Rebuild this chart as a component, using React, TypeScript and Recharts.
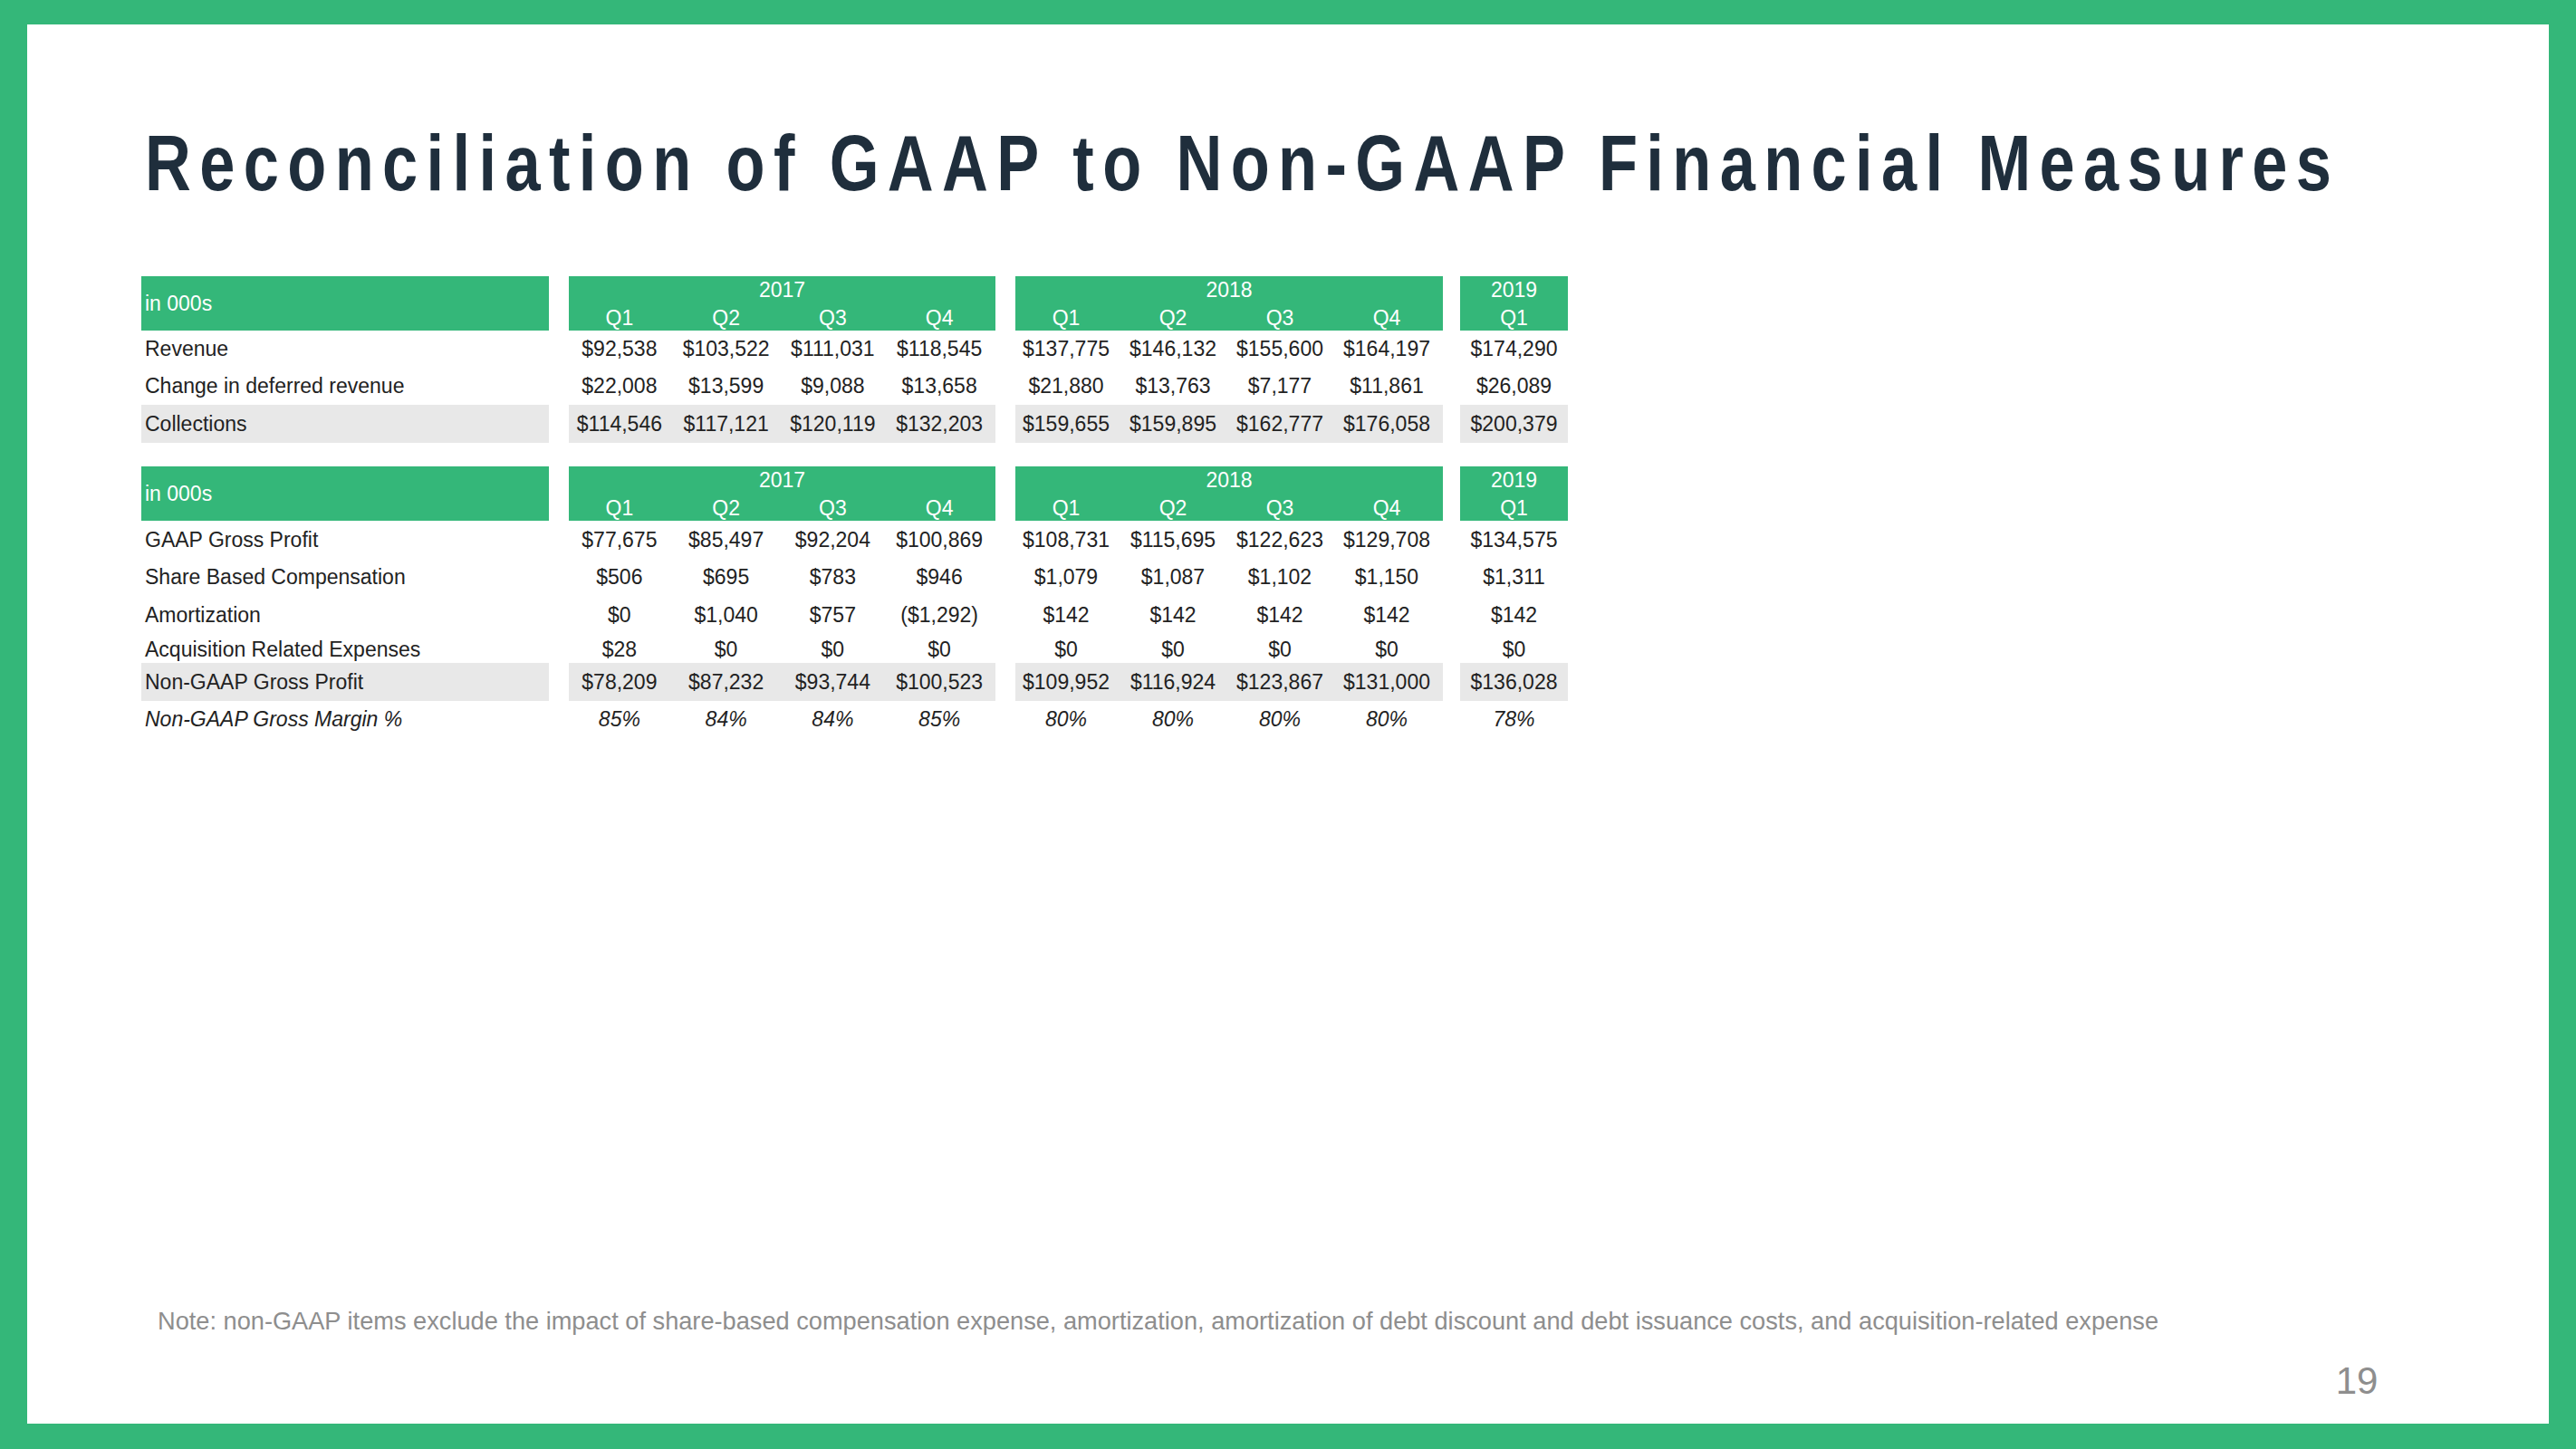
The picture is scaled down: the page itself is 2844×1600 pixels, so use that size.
import React from 'react';
import { Surface, Layer, Rectangle, Text } from 'recharts';

const WIDTH = 2844;
const HEIGHT = 1600;
const FONT = '"Liberation Sans", Arial, Helvetica, sans-serif';
const GREEN = '#34b779';
const TITLE_COLOR = '#1f2e3c';
const TEXT_COLOR = '#222222';
const SHADE = '#e8e8e8';
const NOTE_COLOR = '#8e8e8e';

const title = 'Reconciliation of GAAP to Non-GAAP Financial Measures';
const unitLabel = 'in 000s';
const years = ['2017', '2018', '2019'];
const yearQuarters = [['Q1', 'Q2', 'Q3', 'Q4'], ['Q1', 'Q2', 'Q3', 'Q4'], ['Q1']];

// table 1
const revenue = [92538, 103522, 111031, 118545, 137775, 146132, 155600, 164197, 174290];
const deferredRevenue = [22008, 13599, 9088, 13658, 21880, 13763, 7177, 11861, 26089];
const collections = [114546, 117121, 120119, 132203, 159655, 159895, 162777, 176058, 200379];

// table 2
const gaapGrossProfit = [77675, 85497, 92204, 100869, 108731, 115695, 122623, 129708, 134575];
const shareBasedComp = [506, 695, 783, 946, 1079, 1087, 1102, 1150, 1311];
const amortization = [0, 1040, 757, -1292, 142, 142, 142, 142, 142];
const acquisitionExpenses = [28, 0, 0, 0, 0, 0, 0, 0, 0];
const nonGaapGrossProfit = [78209, 87232, 93744, 100523, 109952, 116924, 123867, 131000, 136028];
const nonGaapMargin = [85, 84, 84, 85, 80, 80, 80, 80, 78];

const note =
  'Note: non-GAAP items exclude the impact of share-based compensation expense, amortization, amortization of debt discount and debt issuance costs, and acquisition-related expense';
const pageNumber = '19';

const money = (v: number) =>
  v < 0 ? `($${Math.abs(v).toLocaleString('en-US')})` : `$${v.toLocaleString('en-US')}`;
const pct = (v: number) => `${v}%`;

interface Row {
  label: string;
  values: number[];
  format: (v: number) => string;
  offset: number;
  shaded?: boolean;
  italic?: boolean;
}

// layout
const LABEL_X = 156;
const LABEL_W = 450;
const GROUP_X = [628, 1121, 1612];
const GROUP_W = [471, 472, 119];
const HEADER_H = 60;

const columnCenters: number[] = [];
GROUP_X.forEach((gx, g) => {
  const n = yearQuarters[g].length;
  yearQuarters[g].forEach((_, q) => {
    columnCenters.push(gx + ((q + 0.5) * GROUP_W[g]) / n - (n > 1 ? 3 : 0));
  });
});

function FinTable({ top, rows }: { top: number; rows: Row[] }) {
  return (
    <Layer>
      <Rectangle x={LABEL_X} y={top} width={LABEL_W} height={HEADER_H} fill={GREEN} />
      <Text x={LABEL_X + 4} y={top + 30} verticalAnchor="middle" fontSize={23} fontFamily={FONT} fill="#ffffff">
        {unitLabel}
      </Text>
      {years.map((yr, g) => (
        <Layer key={yr}>
          <Rectangle x={GROUP_X[g]} y={top} width={GROUP_W[g]} height={HEADER_H} fill={GREEN} />
          <Text
            x={GROUP_X[g] + GROUP_W[g] / 2}
            y={top + 15}
            textAnchor="middle"
            verticalAnchor="middle"
            fontSize={23}
            fontFamily={FONT}
            fill="#ffffff"
          >
            {yr}
          </Text>
        </Layer>
      ))}
      {yearQuarters.flat().map((q, i) => (
        <Text
          key={`q${i}`}
          x={columnCenters[i]}
          y={top + 46}
          textAnchor="middle"
          verticalAnchor="middle"
          fontSize={23}
          fontFamily={FONT}
          fill="#ffffff"
        >
          {q}
        </Text>
      ))}
      {rows.map((row) => {
        const cy = top + row.offset;
        return (
          <Layer key={row.label}>
            {row.shaded && (
              <>
                <Rectangle x={LABEL_X} y={cy - 21} width={LABEL_W} height={42} fill={SHADE} />
                {years.map((yr, g) => (
                  <Rectangle key={yr} x={GROUP_X[g]} y={cy - 21} width={GROUP_W[g]} height={42} fill={SHADE} />
                ))}
              </>
            )}
            <Text
              x={LABEL_X + 4}
              y={cy}
              verticalAnchor="middle"
              fontSize={23}
              fontFamily={FONT}
              fontStyle={row.italic ? 'italic' : 'normal'}
              fill={TEXT_COLOR}
            >
              {row.label}
            </Text>
            {row.values.map((v, i) => (
              <Text
                key={i}
                x={columnCenters[i]}
                y={cy}
                textAnchor="middle"
                verticalAnchor="middle"
                fontSize={23}
                fontFamily={FONT}
                fontStyle={row.italic ? 'italic' : 'normal'}
                fill={TEXT_COLOR}
              >
                {row.format(v)}
              </Text>
            ))}
          </Layer>
        );
      })}
    </Layer>
  );
}

const table1Rows: Row[] = [
  { label: 'Revenue', values: revenue, format: money, offset: 80 },
  { label: 'Change in deferred revenue', values: deferredRevenue, format: money, offset: 121 },
  { label: 'Collections', values: collections, format: money, offset: 163, shaded: true },
];

const table2Rows: Row[] = [
  { label: 'GAAP Gross Profit', values: gaapGrossProfit, format: money, offset: 81 },
  { label: 'Share Based Compensation', values: shareBasedComp, format: money, offset: 122 },
  { label: 'Amortization', values: amortization, format: money, offset: 164 },
  { label: 'Acquisition Related Expenses', values: acquisitionExpenses, format: money, offset: 202 },
  { label: 'Non-GAAP Gross Profit', values: nonGaapGrossProfit, format: money, offset: 238, shaded: true },
  { label: 'Non-GAAP Gross Margin %', values: nonGaapMargin, format: pct, offset: 279, italic: true },
];

export default function App() {
  const titleScale = 0.8;
  return (
    <div style={{ position: 'absolute', left: 0, top: 0, width: WIDTH, height: HEIGHT }}>
      <Surface width={WIDTH} height={HEIGHT}>
        <Rectangle x={0} y={0} width={WIDTH} height={HEIGHT} fill={GREEN} />
        <Rectangle x={30} y={27} width={2784} height={1545} fill="#ffffff" />
        <g transform={`translate(160,210) scale(${titleScale},1)`}>
          <text
            x={0}
            y={0}
            fontSize={88}
            fontWeight="bold"
            fontFamily={FONT}
            fill={TITLE_COLOR}
            textLength={2414 / titleScale}
            lengthAdjust="spacing"
          >
            {title}
          </text>
        </g>
        <FinTable top={305} rows={table1Rows} />
        <FinTable top={515} rows={table2Rows} />
        <Text x={174} y={1458} verticalAnchor="middle" fontSize={27.2} fontFamily={FONT} fill={NOTE_COLOR}>
          {note}
        </Text>
        <Text
          x={2602}
          y={1524}
          textAnchor="middle"
          verticalAnchor="middle"
          fontSize={42}
          fontFamily={FONT}
          fill={NOTE_COLOR}
        >
          {pageNumber}
        </Text>
      </Surface>
    </div>
  );
}
